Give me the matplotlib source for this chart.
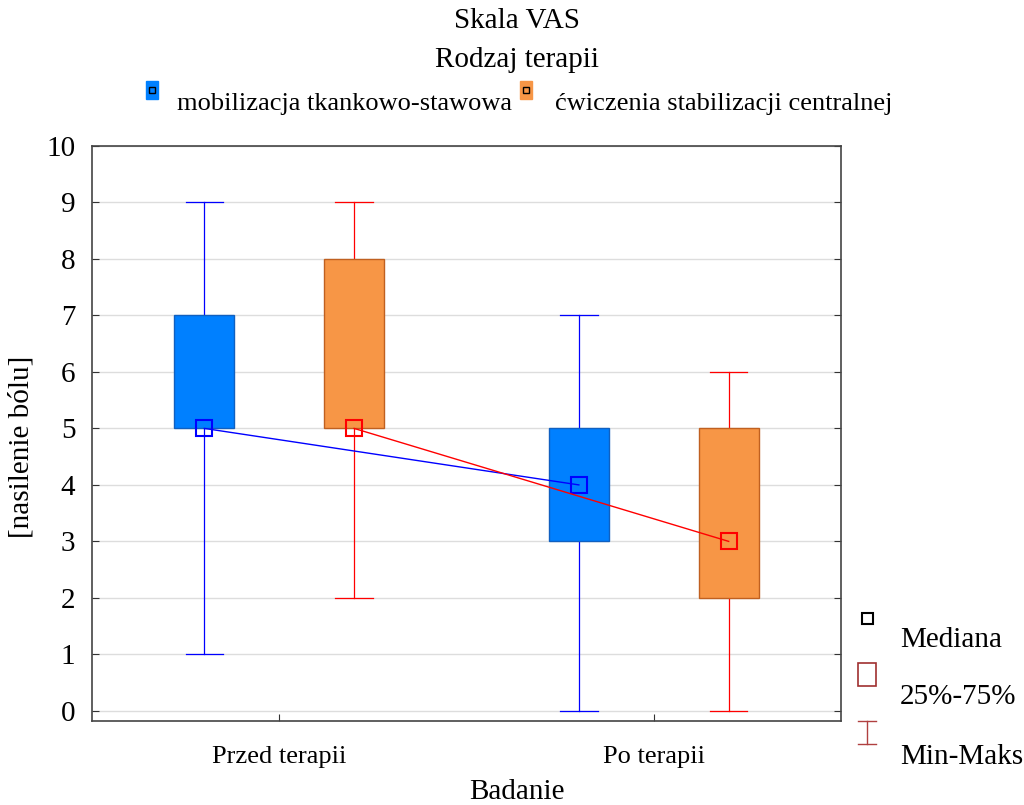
import matplotlib
matplotlib.use("Agg")
import matplotlib.pyplot as plt
from matplotlib.patches import Rectangle
from matplotlib.lines import Line2D

plt.rcParams['font.family'] = ['Liberation Serif', 'DejaVu Serif']

categories = ["Przed terapii", "Po terapii"]
series = ["mobilizacja tkankowo-stawowa", "ćwiczenia stabilizacji centralnej"]
mins = [[1, 0], [2, 0]]
q1s = [[5, 3], [5, 2]]
medians = [[5, 4], [5, 3]]
q3s = [[7, 5], [8, 5]]
maxs = [[9, 7], [9, 6]]
yticks = list(range(0, 11))

fill_colors = ["#0080FF", "#F79646"]
edge_colors = ["#1060C0", "#C06020"]
line_colors = ["#0000FF", "#FF0000"]
offsets = [-0.2, 0.2]
box_w = 0.16
cap_w = 0.1

W, H = 1024, 805
fig = plt.figure(figsize=(W / 100, H / 100), dpi=100)
ax = fig.add_axes([92 / W, 1 - 721 / H, (841 - 92) / W, (721 - 146) / H])

fs = 21
for s in range(2):
    xs = [i + offsets[s] for i in range(len(categories))]
    for i, x in enumerate(xs):
        ax.plot([x, x], [mins[s][i], maxs[s][i]], color=line_colors[s], lw=0.9, zorder=2)
        for v in (mins[s][i], maxs[s][i]):
            ax.plot([x - cap_w / 2, x + cap_w / 2], [v, v], color=line_colors[s], lw=0.9, zorder=2)
        ax.add_patch(Rectangle((x - box_w / 2, q1s[s][i]), box_w, q3s[s][i] - q1s[s][i],
                               facecolor=fill_colors[s], edgecolor=edge_colors[s], lw=1.0, zorder=3))
    ax.plot(xs, medians[s], color=line_colors[s], lw=1.0, zorder=4,
            marker='s', markersize=11, markerfacecolor='none',
            markeredgecolor=line_colors[s], markeredgewidth=1.5)

ax.set_xlim(-0.5, 1.5)
ax.set_ylim(-0.18, 10)
ax.set_yticks(yticks)
ax.set_xticks(range(len(categories)))
ax.set_xticklabels(categories, fontsize=19)
ax.set_yticklabels([str(t) for t in yticks], fontsize=21)
ax.tick_params(axis='y', direction='in', length=5, right=True, left=True, pad=12, color='#333333')
ax.tick_params(axis='x', direction='in', length=5, pad=18, color='#333333')
ax.grid(axis='y', color='#DDDDDD', lw=1.0, zorder=0)
ax.set_axisbelow(True)
for sp in ax.spines.values():
    sp.set_color('#444444')
    sp.set_linewidth(1.2)

# titles and labels
fig.text(517 / W, 1 - 21 / H, "Skala VAS", ha='center', va='center', fontsize=fs)
fig.text(517 / W, 1 - 60 / H, "Rodzaj terapii", ha='center', va='center', fontsize=fs)
fig.text(517 / W, 1 - 792 / H, "Badanie", ha='center', va='center', fontsize=fs)
fig.text(22 / W, 1 - 447 / H, "[nasilenie bólu]", ha='center', va='center', rotation=90, fontsize=fs)

# top legend
leg_x = [152, 526]
text_x = [177, 555]
for s in range(2):
    mx, my = leg_x[s], 90
    fig.patches.append(Rectangle(((mx - 6) / W, 1 - (my + 9) / H), 12 / W, 18 / H,
                                 facecolor=fill_colors[s], edgecolor=fill_colors[s],
                                 transform=fig.transFigure, figure=fig))
    fig.patches.append(Rectangle(((mx - 3) / W, 1 - (my + 3) / H), 6 / W, 6 / H,
                                 facecolor='none', edgecolor='black', lw=1.0,
                                 transform=fig.transFigure, figure=fig))
    fig.text(text_x[s] / W, 1 - 104 / H, series[s], ha='left', va='center', fontsize=19)

# right legend
fig.patches.append(Rectangle((862 / W, 1 - 624 / H), 11 / W, 11 / H, facecolor='none',
                             edgecolor='black', lw=1.5, transform=fig.transFigure, figure=fig))
fig.text(900 / W, 1 - 640 / H, "Mediana", ha='left', va='center', fontsize=fs)
fig.patches.append(Rectangle((858 / W, 1 - 686 / H), 18 / W, 23 / H, facecolor='none',
                             edgecolor='#A03030', lw=1.2, transform=fig.transFigure, figure=fig))
fig.text(900 / W, 1 - 697 / H, "25%-75%", ha='left', va='center', fontsize=fs)
wc = '#B04040'
fig.lines.append(Line2D([858 / W, 876 / W], [1 - 721 / H, 1 - 721 / H], color=wc, lw=1.0, transform=fig.transFigure))
fig.lines.append(Line2D([858 / W, 876 / W], [1 - 744 / H, 1 - 744 / H], color=wc, lw=1.0, transform=fig.transFigure))
fig.lines.append(Line2D([867 / W, 867 / W], [1 - 721 / H, 1 - 744 / H], color=wc, lw=1.0, transform=fig.transFigure))
fig.text(900 / W, 1 - 757 / H, "Min-Maks", ha='left', va='center', fontsize=fs)

fig.savefig("out.png", dpi=100)
